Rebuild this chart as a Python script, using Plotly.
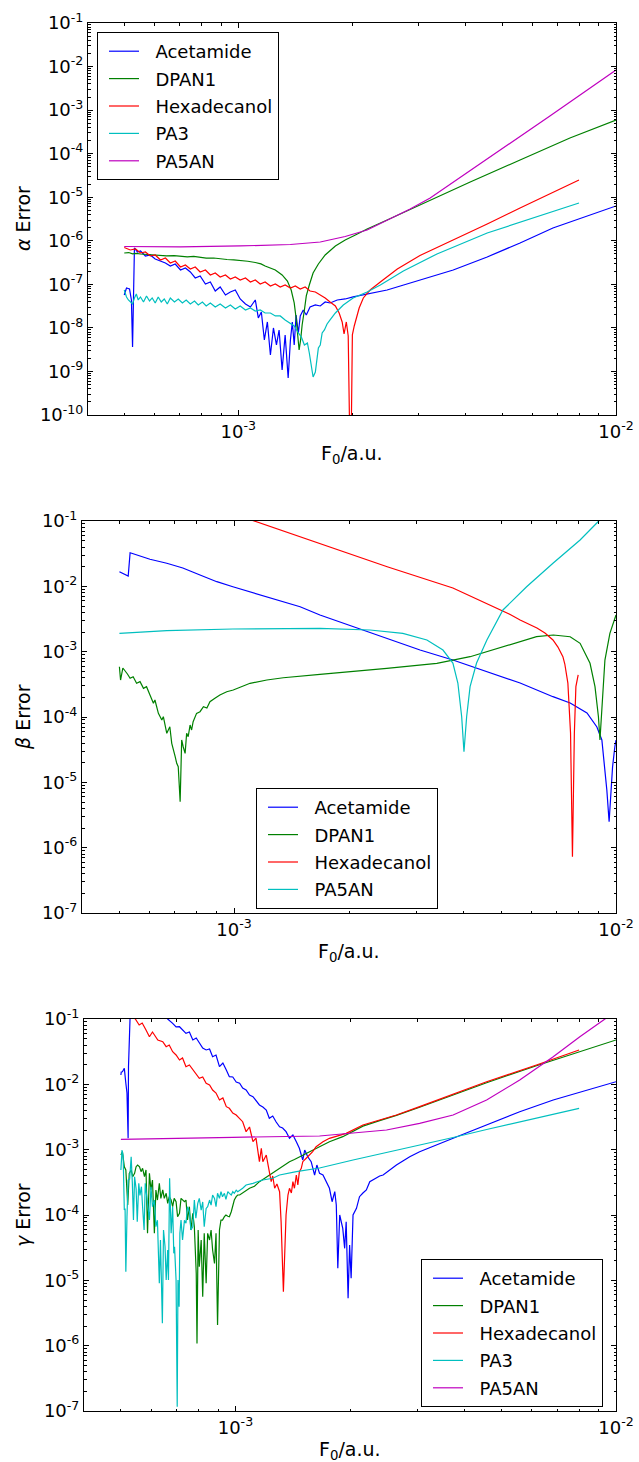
import math
import plotly.graph_objects as go

# ---------------- data: (log10 F0 [a.u.], log10 error) ----------------
SERIES_NAMES = ["Acetamide", "DPAN1", "Hexadecanol", "PA3", "PA5AN"]
SERIES_COLORS = ["#0000ff", "#008000", "#ff0000", "#00bfbf", "#bf00bf"]

# ---- alpha error ----
alpha_acetamide = [(-3.302,-7.244),(-3.296,-7.084),(-3.288,-7.107),(-3.283,-7.359),(-3.280,-8.438),(-3.278,-7.130),
    (-3.275,-6.165),(-3.267,-6.257),(-3.259,-6.234),(-3.246,-6.349),(-3.233,-6.326),(-3.220,-6.418),(-3.206,-6.464),
    (-3.193,-6.510),(-3.180,-6.579),(-3.167,-6.533),(-3.153,-6.670),(-3.140,-6.624),(-3.127,-6.716),(-3.114,-6.854),
    (-3.101,-6.808),(-3.087,-6.992),(-3.074,-6.946),(-3.061,-7.153),(-3.048,-7.061),(-3.034,-7.244),(-3.021,-7.176),
    (-3.008,-7.130),(-2.995,-7.336),(-2.981,-7.451),(-2.968,-7.520),(-2.955,-7.359),(-2.947,-7.772),(-2.939,-7.635),
    (-2.931,-8.277),(-2.923,-7.864),(-2.915,-8.622),(-2.907,-8.002),(-2.899,-8.392),(-2.892,-8.048),(-2.884,-8.966),
    (-2.876,-8.162),(-2.868,-9.150),(-2.862,-8.277),(-2.857,-7.864),(-2.852,-8.392),(-2.847,-7.703),(-2.841,-8.117),
    (-2.836,-7.726),(-2.828,-7.589),(-2.820,-7.703),(-2.810,-7.520),(-2.796,-7.474),(-2.783,-7.497),(-2.770,-7.405),
    (-2.757,-7.428),(-2.738,-7.359),(-2.717,-7.336),(-2.696,-7.290),(-2.669,-7.244),(-2.643,-7.198),(-2.606,-7.130),
    (-2.571,-7.038),(-2.519,-6.900),(-2.431,-6.670),(-2.341,-6.372),(-2.254,-6.050),(-2.167,-5.706),(-2.077,-5.431),
    (-2.000,-5.201)]
alpha_dpan1 = [(-3.302,-6.281),(-3.290,-6.27),(-3.280,-6.30),(-3.270,-6.29),(-3.259,-6.303),(-3.245,-6.31),(-3.230,-6.33),
    (-3.218,-6.32),(-3.206,-6.326),(-3.190,-6.345),(-3.170,-6.34),(-3.153,-6.349),(-3.135,-6.37),(-3.118,-6.36),
    (-3.101,-6.383),(-3.085,-6.40),(-3.065,-6.395),(-3.048,-6.418),(-3.030,-6.43),(-3.012,-6.44),(-2.995,-6.452),
    (-2.975,-6.47),(-2.955,-6.498),(-2.940,-6.53),(-2.929,-6.579),(-2.915,-6.62),(-2.902,-6.670),(-2.884,-6.785),
    (-2.870,-6.923),(-2.860,-7.130),(-2.852,-7.428),(-2.847,-7.772),(-2.843,-8.162),(-2.839,-8.507),(-2.835,-8.277),
    (-2.831,-7.933),(-2.825,-7.589),(-2.820,-7.267),(-2.812,-7.015),(-2.802,-6.739),(-2.788,-6.533),(-2.770,-6.326),
    (-2.743,-6.119),(-2.717,-5.982),(-2.690,-5.867),(-2.659,-5.729),(-2.606,-5.523),(-2.545,-5.281),(-2.492,-5.063),
    (-2.386,-4.650),(-2.254,-4.145),(-2.122,-3.640),(-2.000,-3.227)]
alpha_hexadecanol = [(-3.302,-6.154),(-3.286,-6.211),(-3.272,-6.188),(-3.259,-6.280),(-3.246,-6.257),(-3.233,-6.349),
    (-3.220,-6.326),(-3.206,-6.441),(-3.193,-6.395),(-3.180,-6.510),(-3.167,-6.464),(-3.153,-6.602),(-3.140,-6.556),
    (-3.127,-6.647),(-3.114,-6.602),(-3.101,-6.716),(-3.087,-6.670),(-3.074,-6.785),(-3.061,-6.739),(-3.048,-6.831),
    (-3.034,-6.785),(-3.021,-6.877),(-3.008,-6.831),(-2.995,-6.900),(-2.981,-6.854),(-2.968,-6.946),(-2.955,-6.900),
    (-2.942,-6.992),(-2.929,-6.946),(-2.915,-7.038),(-2.902,-6.992),(-2.889,-7.061),(-2.876,-7.015),(-2.862,-7.084),
    (-2.849,-7.038),(-2.836,-7.107),(-2.823,-7.061),(-2.810,-7.153),(-2.796,-7.176),(-2.783,-7.244),(-2.770,-7.313),
    (-2.757,-7.405),(-2.743,-7.497),(-2.733,-7.658),(-2.725,-7.864),(-2.720,-8.140),(-2.714,-7.864),(-2.709,-8.186),
    (-2.705,-10.5),(-2.701,-10.5),(-2.698,-8.162),(-2.693,-7.956),(-2.688,-7.772),(-2.680,-7.543),(-2.669,-7.313),
    (-2.651,-7.130),(-2.624,-6.946),(-2.579,-6.647),(-2.519,-6.337),(-2.431,-5.982),(-2.341,-5.614),(-2.254,-5.247),
    (-2.167,-4.891),(-2.098,-4.604)]
alpha_pa3 = [(-3.302,-7.130),(-3.296,-7.290),(-3.291,-7.359),(-3.286,-7.405),(-3.280,-7.451),(-3.275,-7.313),(-3.270,-7.221),
    (-3.265,-7.359),(-3.259,-7.290),(-3.251,-7.405),(-3.243,-7.267),(-3.235,-7.382),(-3.228,-7.313),(-3.220,-7.428),
    (-3.212,-7.290),(-3.204,-7.405),(-3.196,-7.336),(-3.188,-7.451),(-3.180,-7.313),(-3.169,-7.405),(-3.159,-7.336),
    (-3.148,-7.428),(-3.138,-7.359),(-3.127,-7.451),(-3.116,-7.382),(-3.106,-7.474),(-3.095,-7.405),(-3.085,-7.497),
    (-3.074,-7.428),(-3.061,-7.520),(-3.048,-7.451),(-3.034,-7.543),(-3.021,-7.474),(-3.008,-7.566),(-2.995,-7.497),
    (-2.981,-7.589),(-2.968,-7.543),(-2.955,-7.612),(-2.942,-7.589),(-2.929,-7.658),(-2.915,-7.658),(-2.902,-7.726),
    (-2.889,-7.726),(-2.876,-7.818),(-2.862,-7.887),(-2.852,-7.956),(-2.841,-8.117),(-2.833,-8.208),(-2.825,-8.392),
    (-2.817,-8.346),(-2.812,-8.576),(-2.807,-8.851),(-2.802,-9.127),(-2.796,-9.012),(-2.792,-8.736),(-2.788,-8.461),
    (-2.783,-8.392),(-2.778,-8.117),(-2.772,-8.048),(-2.765,-7.910),(-2.757,-7.818),(-2.743,-7.658),(-2.722,-7.474),
    (-2.696,-7.313),(-2.659,-7.176),(-2.624,-7.015),(-2.563,-6.693),(-2.474,-6.303),(-2.341,-5.821),(-2.209,-5.454),
    (-2.098,-5.132)]
alpha_pa5an = [(-3.302,-6.131),(-3.153,-6.138),(-2.995,-6.119),(-2.862,-6.085),(-2.783,-6.028),(-2.717,-5.901),
    (-2.659,-5.752),(-2.590,-5.454),(-2.545,-5.270),(-2.492,-5.017),(-2.360,-4.237),(-2.175,-3.135),(-2.000,-2.079)]

# ---- beta error ----
beta_acetamide = [(-3.300,-1.776),(-3.277,-1.842),(-3.272,-1.485),(-3.220,-1.586),(-3.176,-1.647),(-3.134,-1.719),
    (-3.089,-1.827),(-3.045,-1.929),(-3.003,-2.006),(-2.958,-2.082),(-2.914,-2.159),(-2.872,-2.236),(-2.827,-2.312),
    (-2.775,-2.439),(-2.688,-2.618),(-2.599,-2.791),(-2.513,-2.975),(-2.427,-3.128),(-2.338,-3.307),(-2.251,-3.480),
    (-2.165,-3.689),(-2.120,-3.786),(-2.076,-3.939),(-2.050,-4.153),(-2.037,-4.352),(-2.029,-4.765),(-2.024,-5.118),
    (-2.018,-5.603),(-2.014,-5.163),(-2.009,-4.765),(-2.003,-4.455),(-2.000,-4.352)]
beta_dpan1 = [(-3.300,-3.230),(-3.297,-3.434),(-3.291,-3.250),(-3.285,-3.307),(-3.279,-3.342),(-3.272,-3.408),
    (-3.264,-3.383),(-3.255,-3.484),(-3.246,-3.459),(-3.237,-3.561),(-3.229,-3.536),(-3.220,-3.663),(-3.211,-3.790),
    (-3.207,-3.740),(-3.198,-3.943),(-3.189,-4.046),(-3.185,-3.995),(-3.176,-4.250),(-3.168,-4.149),(-3.163,-4.403),
    (-3.159,-4.479),(-3.154,-4.608),(-3.150,-4.709),(-3.146,-4.761),(-3.141,-5.297),(-3.137,-4.352),(-3.133,-4.455),
    (-3.128,-4.556),(-3.124,-4.250),(-3.120,-4.302),(-3.115,-4.123),(-3.111,-4.199),(-3.107,-4.072),(-3.098,-3.944),
    (-3.089,-3.919),(-3.080,-3.842),(-3.071,-3.862),(-3.063,-3.766),(-3.050,-3.714),(-3.037,-3.663),(-3.019,-3.613),
    (-3.002,-3.587),(-2.958,-3.484),(-2.914,-3.434),(-2.871,-3.399),(-2.827,-3.373),(-2.775,-3.347),(-2.600,-3.255),
    (-2.469,-3.178),(-2.382,-3.077),(-2.295,-2.924),(-2.208,-2.771),(-2.164,-2.745),(-2.120,-2.771),(-2.094,-2.872),
    (-2.068,-3.178),(-2.055,-3.536),(-2.046,-3.996),(-2.042,-4.352),(-2.037,-3.842),(-2.029,-3.128),(-2.016,-2.719),
    (-2.000,-2.439)]
beta_hexadecanol = [(-3.300,-0.290),(-2.941,-1.011),(-2.775,-1.341),(-2.599,-1.700),(-2.427,-2.026),(-2.304,-2.362),
    (-2.277,-2.431),(-2.251,-2.515),(-2.207,-2.638),(-2.186,-2.714),(-2.165,-2.821),(-2.152,-2.929),(-2.139,-3.077),
    (-2.134,-3.189),(-2.126,-3.480),(-2.119,-4.245),(-2.114,-6.139),(-2.109,-4.245),(-2.105,-3.536),(-2.099,-3.357)]
beta_pa5an = [(-3.300,-2.719),(-3.176,-2.679),(-3.003,-2.653),(-2.775,-2.642),(-2.644,-2.668),(-2.558,-2.719),
    (-2.495,-2.822),(-2.453,-2.975),(-2.427,-3.174),(-2.414,-3.480),(-2.404,-3.996),(-2.398,-4.531),(-2.391,-3.996),
    (-2.382,-3.536),(-2.365,-3.174),(-2.338,-2.822),(-2.296,-2.362),(-2.234,-2.006),(-2.165,-1.647),(-2.094,-1.291),
    (-2.047,-1.011),(-2.000,-0.720)]

# ---- gamma error ----
gamma_acetamide = [(-3.301,-1.857),(-3.300,-1.811),(-3.297,-1.807),(-3.292,-1.755),(-3.288,-1.984),(-3.285,-2.133),
    (-3.282,-2.826),(-3.281,-1.730),(-3.277,-1.000),(-3.275,-0.450),(-3.250,-0.580),(-3.220,-0.740),(-3.190,-0.920),
    (-3.178,-1.000),(-3.165,-1.066),(-3.156,-1.122),(-3.147,-1.118),(-3.139,-1.168),(-3.130,-1.219),(-3.121,-1.199),
    (-3.112,-1.321),(-3.103,-1.291),(-3.095,-1.372),(-3.086,-1.444),(-3.077,-1.474),(-3.068,-1.459),(-3.060,-1.577),
    (-3.051,-1.551),(-3.042,-1.730),(-3.033,-1.673),(-3.024,-1.781),(-3.016,-1.883),(-3.007,-1.888),(-2.998,-1.964),
    (-2.989,-1.984),(-2.981,-2.056),(-2.972,-2.087),(-2.963,-2.163),(-2.954,-2.189),(-2.946,-2.255),(-2.937,-2.316),
    (-2.928,-2.347),(-2.919,-2.393),(-2.911,-2.520),(-2.902,-2.485),(-2.893,-2.577),(-2.884,-2.649),(-2.876,-2.668),
    (-2.867,-2.725),(-2.858,-2.826),(-2.849,-2.776),(-2.840,-2.878),(-2.832,-2.979),(-2.827,-3.082),(-2.823,-3.158),
    (-2.818,-3.005),(-2.810,-3.108),(-2.801,-3.184),(-2.792,-3.388),(-2.786,-3.235),(-2.779,-3.362),(-2.770,-3.388),
    (-2.761,-3.490),(-2.753,-3.591),(-2.746,-3.797),(-2.739,-3.643),(-2.735,-3.847),(-2.731,-4.816),(-2.726,-4.000),
    (-2.722,-4.107),(-2.718,-4.204),(-2.713,-4.510),(-2.709,-4.103),(-2.704,-5.275),(-2.700,-4.459),(-2.696,-4.969),
    (-2.691,-4.000),(-2.682,-3.898),(-2.674,-3.720),(-2.665,-3.663),(-2.656,-3.617),(-2.647,-3.490),(-2.639,-3.464),
    (-2.630,-3.438),(-2.621,-3.403),(-2.612,-3.388),(-2.595,-3.311),(-2.577,-3.235),(-2.542,-3.108),(-2.516,-3.031),
    (-2.428,-2.826),(-2.340,-2.623),(-2.253,-2.419),(-2.165,-2.240),(-2.077,-2.087),(-2.000,-1.960)]
gamma_dpan1 = [(-3.301,-3.082),(-3.297,-3.031),(-3.292,-3.261),(-3.288,-3.311),(-3.283,-3.847),(-3.279,-3.362),
    (-3.274,-3.311),(-3.270,-3.414),(-3.265,-3.362),(-3.261,-3.261),(-3.257,-3.235),(-3.252,-3.261),(-3.248,-3.337),
    (-3.244,-3.285),(-3.239,-3.414),(-3.235,-3.311),(-3.231,-4.280),(-3.226,-3.362),(-3.222,-3.617),(-3.218,-3.464),
    (-3.213,-4.280),(-3.209,-3.617),(-3.205,-3.771),(-3.200,-3.515),(-3.196,-3.745),(-3.191,-3.617),(-3.187,-3.745),
    (-3.182,-3.668),(-3.178,-3.821),(-3.174,-3.720),(-3.169,-3.771),(-3.165,-3.873),(-3.161,-3.745),(-3.156,-3.797),
    (-3.152,-4.026),(-3.147,-3.974),(-3.143,-3.745),(-3.139,-3.771),(-3.134,-3.797),(-3.130,-3.771),(-3.126,-4.077),
    (-3.121,-3.873),(-3.117,-4.230),(-3.112,-3.974),(-3.108,-4.179),(-3.103,-4.893),(-3.101,-5.965),(-3.098,-4.230),
    (-3.095,-4.792),(-3.090,-4.383),(-3.086,-5.251),(-3.082,-4.280),(-3.077,-5.046),(-3.073,-4.280),(-3.068,-4.383),
    (-3.064,-4.230),(-3.060,-4.536),(-3.055,-4.740),(-3.051,-4.280),(-3.047,-5.684),(-3.042,-4.230),(-3.038,-4.077),
    (-3.034,-4.077),(-3.029,-4.026),(-3.025,-4.000),(-3.020,-4.020),(-3.016,-4.026),(-3.011,-3.950),(-3.007,-3.847),
    (-3.003,-3.771),(-2.998,-3.720),(-2.994,-3.694),(-2.989,-3.694),(-2.976,-3.640),(-2.963,-3.591),(-2.950,-3.560),
    (-2.937,-3.490),(-2.924,-3.440),(-2.911,-3.388),(-2.898,-3.350),(-2.884,-3.285),(-2.871,-3.240),(-2.858,-3.184),
    (-2.845,-3.150),(-2.832,-3.108),(-2.805,-3.031),(-2.779,-2.955),(-2.753,-2.878),(-2.718,-2.801),(-2.665,-2.640),
    (-2.621,-2.556),(-2.577,-2.475),(-2.516,-2.350),(-2.340,-1.975),(-2.209,-1.715),(-2.097,-1.500),(-2.000,-1.321)]
gamma_hexadecanol = [(-3.301,-0.780),(-3.263,-1.000),(-3.253,-1.092),(-3.245,-1.061),(-3.235,-1.168),(-3.226,-1.271),
    (-3.218,-1.199),(-3.204,-1.321),(-3.191,-1.347),(-3.182,-1.424),(-3.174,-1.398),(-3.165,-1.500),(-3.156,-1.551),
    (-3.147,-1.628),(-3.139,-1.597),(-3.130,-1.730),(-3.121,-1.704),(-3.112,-1.781),(-3.103,-1.842),(-3.095,-1.908),
    (-3.086,-1.888),(-3.077,-1.984),(-3.068,-2.010),(-3.060,-2.087),(-3.051,-2.133),(-3.042,-2.240),(-3.033,-2.209),
    (-3.024,-2.342),(-3.016,-2.367),(-3.007,-2.439),(-2.998,-2.469),(-2.989,-2.531),(-2.981,-2.572),(-2.972,-2.725),
    (-2.963,-2.653),(-2.954,-2.878),(-2.946,-2.822),(-2.937,-3.184),(-2.932,-2.979),(-2.928,-3.184),(-2.919,-3.082),
    (-2.911,-3.337),(-2.906,-3.490),(-2.902,-3.403),(-2.897,-3.591),(-2.891,-3.526),(-2.884,-3.643),(-2.880,-4.103),
    (-2.877,-4.510),(-2.874,-5.174),(-2.870,-4.510),(-2.867,-4.000),(-2.862,-3.694),(-2.858,-3.591),(-2.853,-3.663),
    (-2.849,-3.490),(-2.845,-3.591),(-2.840,-3.388),(-2.836,-3.541),(-2.832,-3.337),(-2.827,-3.285),(-2.823,-3.184),
    (-2.814,-3.132),(-2.805,-3.082),(-2.797,-3.031),(-2.788,-2.955),(-2.770,-2.878),(-2.753,-2.826),(-2.709,-2.750),
    (-2.665,-2.623),(-2.621,-2.546),(-2.577,-2.469),(-2.516,-2.342),(-2.340,-1.960),(-2.209,-1.704),(-2.097,-1.475)]
gamma_pa3 = [(-3.301,-3.311),(-3.298,-3.005),(-3.295,-3.100),(-3.292,-3.924),(-3.290,-3.900),(-3.288,-4.868),
    (-3.285,-4.026),(-3.282,-3.464),(-3.278,-3.450),(-3.274,-3.108),(-3.271,-3.500),(-3.268,-4.077),(-3.265,-3.414),
    (-3.261,-3.600),(-3.258,-4.103),(-3.254,-3.515),(-3.251,-3.700),(-3.247,-3.567),(-3.244,-3.873),(-3.240,-4.230),
    (-3.237,-3.515),(-3.234,-3.650),(-3.230,-3.873),(-3.226,-4.077),(-3.222,-3.567),(-3.218,-3.873),(-3.213,-3.771),
    (-3.209,-4.179),(-3.205,-4.080),(-3.200,-5.046),(-3.197,-4.383),(-3.195,-5.046),(-3.192,-5.658),(-3.189,-4.230),
    (-3.185,-4.485),(-3.182,-4.995),(-3.178,-4.536),(-3.176,-4.995),(-3.173,-3.438),(-3.169,-4.280),(-3.165,-3.873),
    (-3.162,-4.587),(-3.160,-4.485),(-3.156,-4.995),(-3.153,-6.935),(-3.151,-4.995),(-3.148,-5.404),(-3.146,-4.280),
    (-3.143,-4.077),(-3.139,-4.383),(-3.134,-4.080),(-3.130,-4.127),(-3.126,-3.873),(-3.121,-3.950),(-3.117,-4.230),
    (-3.112,-4.179),(-3.108,-3.771),(-3.104,-4.050),(-3.099,-3.821),(-3.095,-3.745),(-3.090,-3.924),(-3.086,-3.800),
    (-3.082,-4.179),(-3.077,-3.900),(-3.073,-3.873),(-3.068,-3.771),(-3.064,-3.850),(-3.060,-3.694),(-3.055,-3.745),
    (-3.051,-3.873),(-3.047,-3.668),(-3.042,-3.745),(-3.038,-3.643),(-3.034,-3.720),(-3.029,-3.668),(-3.025,-3.760),
    (-3.020,-3.643),(-3.016,-3.670),(-3.011,-3.694),(-3.007,-3.643),(-3.003,-3.668),(-2.998,-3.620),(-2.994,-3.643),
    (-2.981,-3.591),(-2.972,-3.541),(-2.954,-3.515),(-2.928,-3.464),(-2.902,-3.438),(-2.884,-3.388),(-2.840,-3.337),
    (-2.779,-3.281),(-2.691,-3.158),(-2.603,-3.044),(-2.516,-2.929),(-2.428,-2.814),(-2.340,-2.691),(-2.209,-2.515),
    (-2.097,-2.367)]
gamma_pa5an = [(-3.301,-2.841),(-3.182,-2.826),(-3.007,-2.811),(-2.779,-2.791),(-2.691,-2.750),(-2.603,-2.699),
    (-2.516,-2.597),(-2.428,-2.469),(-2.340,-2.240),(-2.253,-1.934),(-2.165,-1.577),(-2.095,-1.271),(-2.029,-1.000),
    (-2.000,-0.870)]

PANELS = [
    dict(series=[alpha_acetamide, alpha_dpan1, alpha_hexadecanol, alpha_pa3, alpha_pa5an],
         names=SERIES_NAMES, colors=SERIES_COLORS, ylabel="<i>α</i> Error", yexp=(-10, -1)),
    dict(series=[beta_acetamide, beta_dpan1, beta_hexadecanol, beta_pa5an],
         names=["Acetamide", "DPAN1", "Hexadecanol", "PA5AN"],
         colors=["#0000ff", "#008000", "#ff0000", "#00bfbf"], ylabel="<i>β</i> Error", yexp=(-7, -1)),
    dict(series=[gamma_acetamide, gamma_dpan1, gamma_hexadecanol, gamma_pa3, gamma_pa5an],
         names=SERIES_NAMES, colors=SERIES_COLORS, ylabel="<i>γ</i> Error", yexp=(-7, -1)),
]
X_MIN, X_MAX = 4e-4, 1e-2
X_TICK_EXP = [-3, -2]

# ---------------- layout geometry ----------------
W, H = 639, 1462
FONT = "DejaVu Sans"
# plot areas in pixels (left, right, top, bottom)
AREAS = [(88, 616, 23, 415), (82, 616, 521, 913), (84, 616, 1019, 1411)]
LEGEND_POS = [(97, 32), (256, 788), (421, 1259)]
LEGEND_TEXT_PAD = "\u00a0\u00a0"   # visual gap between legend line and label

fig = go.Figure()

def px_x(p):
    return p / W

def px_y(p):
    return 1 - p / H

xminor = [m * 10.0 ** e for e in (-4, -3) for m in range(2, 10) if X_MIN <= m * 10.0 ** e < X_MAX]

annotations = []
for i, panel in enumerate(PANELS):
    k = "" if i == 0 else str(i + 1)
    legname = "legend" + k
    for j, (ser, name, col) in enumerate(zip(panel["series"], panel["names"], panel["colors"])):
        fig.add_trace(go.Scatter(
            x=[10 ** a for a, _ in ser], y=[10 ** b for _, b in ser],
            mode="lines", name=LEGEND_TEXT_PAD + name, line=dict(color=col, width=1.2),
            xaxis="x" + k, yaxis="y" + k, legend=legname, legendgroup=f"g{i}_{j}",
            hoverinfo="skip"))
    l, r, t, b = AREAS[i]
    lo, hi = panel["yexp"]
    yticks = [10.0 ** e for e in range(lo, hi + 1)]
    yminor = [m * 10.0 ** e for e in range(lo, hi) for m in range(2, 10)]
    common = dict(type="log", showline=True, linecolor="black", linewidth=1, mirror="allticks",
                  ticks="inside", ticklen=5, tickwidth=1, tickcolor="black", showgrid=False,
                  zeroline=False, automargin=False,
                  tickfont=dict(family=FONT, size=18, color="black"))
    fig.layout["xaxis" + k] = dict(common, domain=[px_x(l), px_x(r)], anchor="y" + k,
        range=[math.log10(X_MIN), math.log10(X_MAX)],
        tickmode="array", tickvals=[10.0 ** e for e in X_TICK_EXP],
        ticktext=[f"10<sup>{e}</sup>" for e in X_TICK_EXP],
        minor=dict(ticks="inside", ticklen=2.5, tickcolor="black", tickvals=xminor, showgrid=False))
    fig.layout["yaxis" + k] = dict(common, domain=[px_y(b), px_y(t)], anchor="x" + k,
        range=[lo, hi], tickmode="array", tickvals=yticks,
        ticktext=[f"10<sup>{e}</sup>" for e in range(lo, hi + 1)],
        minor=dict(ticks="inside", ticklen=2.5, tickcolor="black", tickvals=yminor, showgrid=False))
    lx, ly = LEGEND_POS[i]
    fig.layout[legname] = dict(x=px_x(lx), y=px_y(ly), xanchor="left", yanchor="top",
        bordercolor="black", borderwidth=1, bgcolor="white",
        font=dict(family=FONT, size=18, color="black"),
        traceorder="grouped", tracegroupgap=1, itemwidth=30, indentation=6)
    annotations.append(dict(text="F<sub>0</sub>/a.u.", x=px_x((l + r) / 2), y=px_y(b + 39),
        xref="paper", yref="paper", showarrow=False, xanchor="center", yanchor="middle",
        font=dict(family=FONT, size=19, color="black")))
    annotations.append(dict(text=panel["ylabel"], x=px_x(23), y=px_y((t + b) / 2),
        xref="paper", yref="paper", showarrow=False, xanchor="center", yanchor="middle",
        textangle=-90, font=dict(family=FONT, size=19, color="black")))

fig.update_layout(width=W, height=H, margin=dict(l=0, r=0, t=0, b=0, pad=0),
                  paper_bgcolor="white", plot_bgcolor="white",
                  annotations=annotations, showlegend=True)
fig.write_html("out.html", config={"displayModeBar": False},
               post_script="document.body.style.margin='0px';document.body.style.overflow='hidden';")
